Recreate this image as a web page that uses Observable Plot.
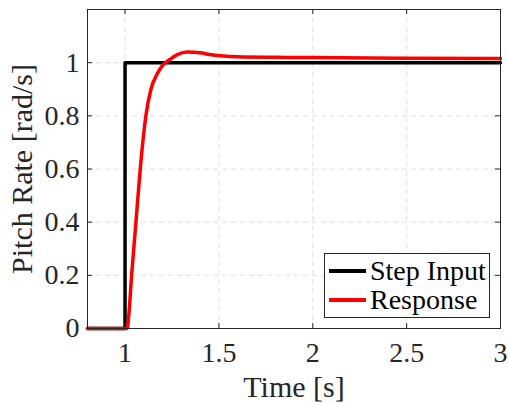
<!DOCTYPE html>
<html>
<head>
<meta charset="utf-8">
<script src="https://cdn.jsdelivr.net/npm/d3@7"></script>
<script src="https://cdn.jsdelivr.net/npm/@observablehq/plot@0.6"></script>
<style>
  html, body { margin: 0; padding: 0; background: #fff; }
  #wrap { position: relative; width: 508px; height: 403px; font-family: "Liberation Serif", serif; color: #262626; }
  #legend { position: absolute; left: 324px; top: 253px; width: 166px; height: 65px; border: 1px solid #262626; background: #fff; box-sizing: border-box; }
  .row { position: absolute; left: 0; display: flex; align-items: center; font-size: 28px; line-height: 28px; white-space: nowrap; color: #000; }
  .sw { width: 37px; height: 3.5px; margin-left: 4px; margin-right: 4px; }
</style>
</head>
<body>
<div id="wrap"></div>
<script>
// ---- data ----
const xTicks = [1, 1.5, 2, 2.5, 3];
const yTicks = [0, 0.2, 0.4, 0.6, 0.8, 1];
const xDomain = [0.8, 3];
const yDomain = [0, 1.2];

const stepT = [0.8, 1, 1, 3];
const stepY = [0, 0, 1, 1];

const respT = [0.8, 1.0, 1.012, 1.02, 1.035, 1.058, 1.081, 1.111, 1.138, 1.173, 1.2, 1.235, 1.279, 1.33, 1.40, 1.45, 1.51, 1.6, 1.8, 2.0, 2.5, 3.0];
const respY = [0, 0, 0, 0.05, 0.2, 0.4, 0.6, 0.8, 0.9, 0.96, 0.99, 1.01, 1.03, 1.04, 1.037, 1.031, 1.026, 1.022, 1.02, 1.019, 1.017, 1.016];

const seriesNames = ["Step Input", "Response"];
const seriesColors = ["#000000", "#ff0000"];
const xLabel = "Time [s]";
const yLabel = "Pitch Rate [rad/s]";

const step = stepT.map((t, i) => ({t, y: stepY[i]}));
const resp = respT.map((t, i) => ({t, y: respY[i]}));

const W = 508, H = 403;
const mL = 87, mR = 8, mT = 9, mB = 75;
const innerH = H - mT - mB, innerW = W - mL - mR;
const tk = 5;
const axisColor = "#262626";
const fmt = d => String(d);

const chart = Plot.plot({
  width: W, height: H,
  marginLeft: mL, marginRight: mR, marginTop: mT, marginBottom: mB,
  x: {domain: xDomain},
  y: {domain: yDomain},
  style: {fontFamily: "'Liberation Serif', serif", color: axisColor, background: "#fff"},
  marks: [
    Plot.gridX(xTicks, {stroke: axisColor, strokeOpacity: 0.15, strokeDasharray: "5,4"}),
    Plot.gridY(yTicks, {stroke: axisColor, strokeOpacity: 0.15, strokeDasharray: "5,4"}),
    Plot.line(step, {x: "t", y: "y", stroke: seriesColors[0], strokeWidth: 3.5}),
    Plot.line(resp, {x: "t", y: "y", stroke: seriesColors[1], strokeWidth: 3.5, curve: "monotone-x"}),
    // inward ticks on all four sides
    Plot.tickX(xTicks, {x: d => d, stroke: axisColor, insetTop: innerH - tk}),
    Plot.tickX(xTicks, {x: d => d, stroke: axisColor, insetBottom: innerH - tk}),
    Plot.tickY(yTicks, {y: d => d, stroke: axisColor, insetRight: innerW - tk}),
    Plot.tickY(yTicks, {y: d => d, stroke: axisColor, insetLeft: innerW - tk}),
    Plot.frame({stroke: axisColor}),
    Plot.axisX(xTicks, {tickSize: 0, tickPadding: 14, tickFormat: fmt, fontSize: 28, label: null}),
    Plot.axisY(yTicks, {tickSize: 0, tickPadding: 8, tickFormat: fmt, fontSize: 28, label: null}),
    Plot.text([xLabel], {text: d => d, frameAnchor: "bottom", lineAnchor: "bottom", dy: 68, fontSize: 30, fill: axisColor}),
    Plot.text([yLabel], {text: d => d, frameAnchor: "left", textAnchor: "middle", lineAnchor: "top", rotate: -90, dx: -77, fontSize: 30, fill: axisColor})
  ]
});

const wrap = document.getElementById("wrap");
wrap.appendChild(chart);

const legend = document.createElement("div");
legend.id = "legend";
seriesNames.forEach((name, i) => {
  const row = document.createElement("div");
  row.className = "row";
  row.style.top = (3 + i * 29) + "px";
  const sw = document.createElement("span");
  sw.className = "sw";
  sw.style.background = seriesColors[i];
  const tx = document.createElement("span");
  tx.textContent = name;
  row.appendChild(sw);
  row.appendChild(tx);
  legend.appendChild(row);
});
wrap.appendChild(legend);
</script>
</body>
</html>
